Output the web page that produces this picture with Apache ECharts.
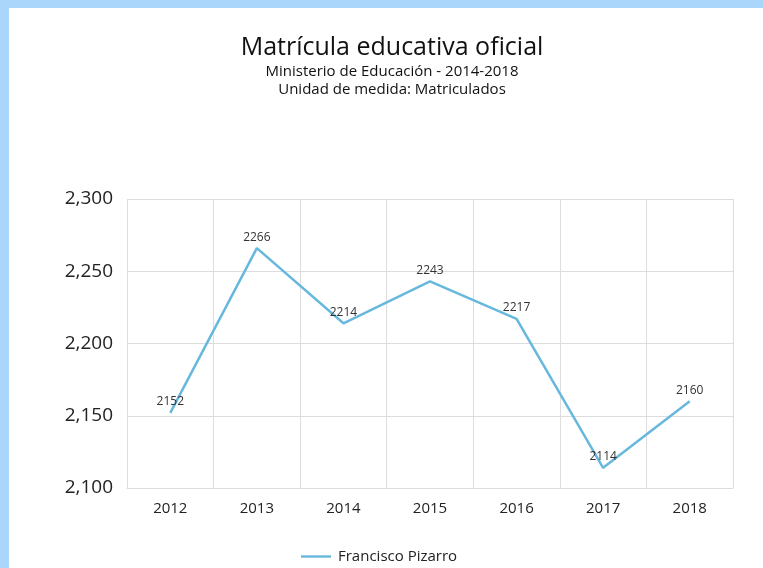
<!DOCTYPE html>
<html>
<head>
<meta charset="utf-8">
<script src="https://cdn.jsdelivr.net/npm/echarts@6/dist/echarts.min.js"></script>
<style>
html,body{margin:0;padding:0;width:763px;height:568px;overflow:hidden;background:#fff;}
#frame{position:absolute;left:0;top:0;width:763px;height:568px;background:#aad6fb;}
#chart{position:absolute;left:9px;top:8px;width:766px;height:560px;background:#fff;}
</style>
</head>
<body>
<div id="frame"></div>
<div id="chart"></div>
<script>
var categories = ['2012','2013','2014','2015','2016','2017','2018'];
var seriesName = 'Francisco Pizarro';
var values = [2152, 2266, 2214, 2243, 2217, 2114, 2160];
var yTicks = {min: 2100, max: 2300, interval: 50};

var FONT = '"Open Sans", "Noto Sans", sans-serif';
var chart = echarts.init(document.getElementById('chart'), null, {renderer: 'canvas'});
chart.setOption({
  animation: false,
  textStyle: {fontFamily: FONT},
  title: {
    text: 'Matrícula educativa oficial',
    subtext: 'Ministerio de Educación - 2014-2018\nUnidad de medida: Matriculados',
    left: 'center',
    top: 20,
    itemGap: 0,
    textStyle: {fontFamily: FONT, fontSize: 25, fontWeight: 'normal', color: '#111', lineHeight: 30},
    subtextStyle: {fontFamily: FONT, fontSize: 15, color: '#111', lineHeight: 18}
  },
  legend: {
    bottom: -1,
    left: 287,
    itemWidth: 30,
    itemHeight: 10,
    itemGap: 10,
    data: [{name: seriesName, icon: 'path://M0,4 L30,4 L30,6.4 L0,6.4 Z'}],
    textStyle: {fontFamily: FONT, fontSize: 15, color: '#222', padding: [0, 0, 0, 2]}
  },
  grid: {left: 118, top: 191, width: 606, height: 289, containLabel: false},
  xAxis: {
    type: 'category',
    data: categories,
    boundaryGap: true,
    axisLine: {show: true, lineStyle: {color: '#ddd'}},
    axisTick: {show: false},
    splitLine: {show: true, lineStyle: {color: '#ddd'}},
    axisLabel: {fontFamily: FONT, fontSize: 15, color: '#222', margin: 13}
  },
  yAxis: {
    type: 'value',
    min: yTicks.min, max: yTicks.max, interval: yTicks.interval,
    axisLine: {show: false},
    axisTick: {show: false},
    splitLine: {show: true, lineStyle: {color: '#ddd'}},
    axisLabel: {
      fontFamily: FONT, fontSize: 19, color: '#222', margin: 14,
      formatter: function (v) { return v.toLocaleString('en-US'); }
    }
  },
  series: [{
    name: seriesName,
    type: 'line',
    data: values,
    symbol: 'circle',
    symbolSize: 0.1,
    showSymbol: true,
    lineStyle: {color: '#67b8dd', width: 2.5},
    itemStyle: {color: '#67b8dd'},
    label: {show: true, position: 'top', distance: 5, fontFamily: FONT, fontSize: 12, color: '#333'}
  }]
});
</script>
</body>
</html>
